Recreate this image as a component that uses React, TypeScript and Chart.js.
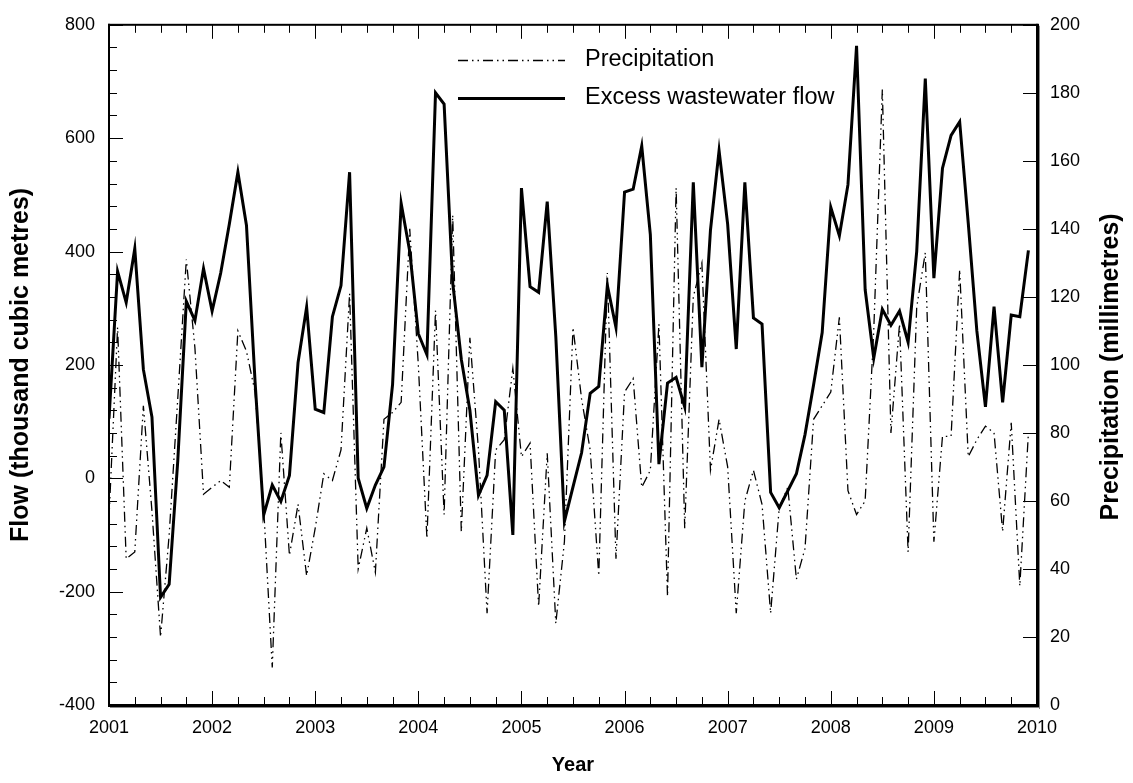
import { useEffect, useRef } from "react";
import { Chart, registerables } from "chart.js";

Chart.register(...registerables);

// Monthly series, January 2001 through December 2009
const flowValues = [
  105, 365, 310, 405, 192, 108, -210, -187, 30, 312, 278, 370,
  295, 362, 448, 540, 446, 170, -65, -12, -41, 5, 204, 302,
  122, 116, 285, 340, 540, 0, -53, -12, 20, 165, 485, 400,
  255, 218, 680, 660, 345, 210, 120, -30, 5, 135, 120, -100,
  512, 338, 328, 488, 250, -76, -15, 45, 150, 162, 340, 266,
  505, 510, 586, 430, 25, 168, 178, 126, 522, 196, 438, 578,
  448, 228, 522, 283, 272, -25, -52, -22, 8, 77, 165, 257,
  478, 428, 518, 763, 333, 212, 298, 270, 295, 240, 400, 705,
  353, 547, 605, 629, 450, 260, 126, 303, 134, 288, 285, 402,
];

const precipValues = [
  55, 111, 43, 45, 88, 57, 20, 50, 90, 131, 105, 62,
  64, 66, 64, 110, 104, 92, 58, 11, 80, 44, 59, 38,
  52, 68, 66, 75, 121, 40, 52, 39, 84, 86, 89, 140,
  100, 49, 116, 56, 144, 51, 108, 75, 27, 75, 78, 99,
  73, 77, 29, 74, 24, 48, 111, 90, 75, 38, 127, 43,
  92, 96, 64, 69, 112, 32, 152, 52, 120, 130, 69, 84,
  70, 27, 60, 69, 59, 27, 58, 64, 37, 46, 84, 88,
  92, 114, 63, 56, 60, 110, 181, 80, 112, 45, 117, 133,
  48, 79, 79, 128, 73, 78, 82, 80, 51, 83, 35, 80,
];

const firstYear = 2001;
const lastYear = 2010;
const flowRange = [-400, 800];
const precipRange = [0, 200];

const FONT = "'Liberation Sans', Arial, sans-serif";
const PRECIP_DASH = [10, 4, 1.5, 4, 1.5, 4];

const toPoints = (values: number[]) =>
  values.map((v, i) => ({ x: firstYear + i / 12, y: v }));

// Frame with inward major/minor ticks on all four sides
const framePlugin = {
  id: "frameTicks",
  afterDatasetsDraw(chart: any) {
    const { ctx, chartArea: a, scales } = chart;
    const xs = scales.x, yl = scales.y, yr = scales.y1;
    ctx.save();
    ctx.strokeStyle = "#000";
    ctx.lineWidth = 1;
    const major = 14, minor = 8;
    ctx.beginPath();
    for (let q = 0; q <= (lastYear - firstYear) * 4; q++) {
      const px = Math.round(xs.getPixelForValue(firstYear + q / 4)) + 0.5;
      const len = q % 4 === 0 ? major : minor;
      ctx.moveTo(px, a.bottom);
      ctx.lineTo(px, a.bottom - len);
      ctx.moveTo(px, a.top);
      ctx.lineTo(px, a.top + len);
    }
    for (let v = flowRange[0]; v <= flowRange[1]; v += 40) {
      const py = Math.round(yl.getPixelForValue(v)) + 0.5;
      const len = v % 200 === 0 ? major : minor;
      ctx.moveTo(a.left, py);
      ctx.lineTo(a.left + len, py);
    }
    for (let v = precipRange[0]; v <= precipRange[1]; v += 20) {
      const py = Math.round(yr.getPixelForValue(v)) + 0.5;
      ctx.moveTo(a.right, py);
      ctx.lineTo(a.right - major, py);
    }
    ctx.stroke();

    // shadowed frame: thin left/top, heavier right/bottom
    ctx.fillStyle = "#000";
    ctx.fillRect(a.left - 1, a.top - 1, a.right - a.left + 2, 2);
    ctx.fillRect(a.left - 1, a.top - 1, 2, a.bottom - a.top + 2);
    ctx.fillRect(a.right - 1, a.top - 1, 3, a.bottom - a.top + 3);
    ctx.fillRect(a.left - 1, a.bottom - 1, a.right - a.left + 3, 3);
    ctx.fillStyle = "#8a8a8a";
    ctx.fillRect(a.right + 2, a.top + 1, 1, a.bottom - a.top + 3);
    ctx.fillRect(a.left + 1, a.bottom + 2, a.right - a.left + 2, 1);
    ctx.restore();
  },
};

// Line-sample legend inside the plot, plus the right-hand axis title
const legendPlugin = {
  id: "insetLegend",
  afterDraw(chart: any) {
    const { ctx } = chart;
    const items = [chart.data.datasets[1], chart.data.datasets[0]];
    const rows = [60, 98];
    ctx.save();
    ctx.font = `23.5px ${FONT}`;
    ctx.fillStyle = "#000";
    ctx.textBaseline = "middle";
    ctx.textAlign = "left";
    items.forEach((ds: any, k: number) => {
      const y = rows[k];
      ctx.beginPath();
      ctx.strokeStyle = ds.borderColor;
      ctx.lineWidth = ds.borderWidth;
      ctx.setLineDash(ds.borderDash || []);
      ctx.moveTo(458, y + 0.5);
      ctx.lineTo(565, y + 0.5);
      ctx.stroke();
      ctx.setLineDash([]);
      ctx.fillText(ds.label, 585, y);
    });

    ctx.translate(1111, (chart.chartArea.top + chart.chartArea.bottom) / 2 + 2);
    ctx.rotate(-Math.PI / 2);
    ctx.font = `bold 25px ${FONT}`;
    ctx.textAlign = "center";
    ctx.fillText("Precipitation (millimetres)", 0, 0);
    ctx.restore();
  },
};

export default function App() {
  const ref = useRef<HTMLCanvasElement | null>(null);

  useEffect(() => {
    if (!ref.current) return;
    const chart = new Chart(ref.current, {
      type: "line",
      data: {
        datasets: [
          {
            label: "Excess wastewater flow",
            data: toPoints(flowValues),
            yAxisID: "y",
            borderColor: "#000",
            borderWidth: 3,
            pointRadius: 0,
            tension: 0,
            fill: false,
          },
          {
            label: "Precipitation",
            data: toPoints(precipValues),
            yAxisID: "y1",
            borderColor: "#000",
            borderWidth: 1.3,
            borderDash: PRECIP_DASH,
            pointRadius: 0,
            tension: 0,
            fill: false,
          },
        ],
      },
      options: {
        animation: false,
        responsive: false,
        devicePixelRatio: 1,
        layout: { padding: { top: 18, left: 0, right: 0, bottom: 0 } },
        plugins: { legend: { display: false }, tooltip: { enabled: false } },
        scales: {
          x: {
            type: "linear",
            min: firstYear,
            max: lastYear,
            grid: { display: false, drawTicks: false },
            border: { display: false },
            ticks: {
              stepSize: 1,
              padding: 12,
              color: "#000",
              font: { family: FONT, size: 18 },
              callback: (v: any) => String(v),
              maxRotation: 0,
            },
            title: {
              display: true,
              text: "Year",
              color: "#000",
              font: { family: FONT, size: 20, weight: "bold" },
              padding: { top: 0, bottom: 6 },
            },
            afterFit: (s: any) => {
              s.height = 78;
            },
          },
          y: {
            position: "left",
            min: flowRange[0],
            max: flowRange[1],
            grid: { display: false, drawTicks: false },
            border: { display: false },
            ticks: {
              stepSize: 200,
              padding: 14,
              color: "#000",
              font: { family: FONT, size: 18 },
            },
            title: {
              display: true,
              text: "Flow (thousand cubic metres)",
              color: "#000",
              font: { family: FONT, size: 25, weight: "bold" },
              padding: { top: 6, bottom: 0 },
            },
            afterFit: (s: any) => {
              s.width = 109;
            },
          },
          y1: {
            position: "right",
            min: precipRange[0],
            max: precipRange[1],
            grid: { display: false, drawTicks: false },
            border: { display: false },
            ticks: {
              stepSize: 20,
              padding: 13,
              color: "#000",
              font: { family: FONT, size: 18 },
            },
            afterFit: (s: any) => {
              s.width = 96;
            },
          },
        },
      },
      plugins: [framePlugin, legendPlugin],
    });
    return () => chart.destroy();
  }, []);

  return (
    <div style={{ position: "absolute", left: 0, top: 0, width: 1133, height: 783, background: "#fff" }}>
      <canvas ref={ref} width={1133} height={783} />
    </div>
  );
}
